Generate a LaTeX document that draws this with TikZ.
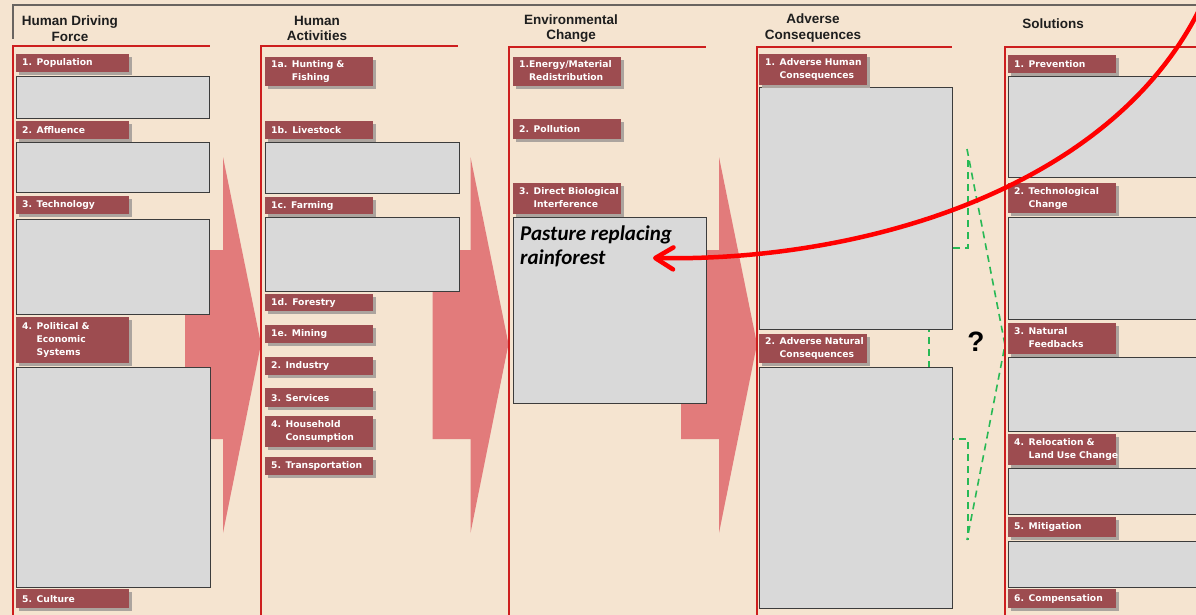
\documentclass[tikz,border=0pt]{standalone}
\usepackage{fontspec}
\usetikzlibrary{shadows,arrows.meta}
\newfontfamily\arialf{Liberation Sans}
\newfontfamily\verdf{DejaVu Sans}
\newfontfamily\calf{Carlito}
\definecolor{bgc}{RGB}{245,228,208}
\definecolor{tabc}{RGB}{157,76,80}
\definecolor{shadc}{RGB}{172,164,158}
\definecolor{boxc}{RGB}{217,217,217}
\definecolor{boxline}{RGB}{60,60,60}
\definecolor{colred}{RGB}{205,30,30}
\definecolor{framegray}{RGB}{105,100,96}
\definecolor{arrowc}{RGB}{226,123,123}
\definecolor{greenc}{RGB}{40,185,85}
\definecolor{headc}{RGB}{30,30,30}
\begin{document}
\begin{tikzpicture}[x=1pt,y=-1pt,
  tabx/.style={fill=tabc, text=white, font=\verdf\bfseries\fontsize{9.2}{13}\selectfont,
    anchor=north west, inner xsep=6pt, inner ysep=0pt, align=left, text width=96pt,
    drop shadow={shadow xshift=2.5pt, shadow yshift=-2.5pt, fill=shadc, opacity=1}},
  tabw/.style={tabx, text width=101pt},
  gbx/.style={fill=boxc, draw=boxline, line width=1.3pt, anchor=north west, inner sep=0pt},
  headx/.style={font=\arialf\bfseries\fontsize{13.5}{15.5}\selectfont, text=headc, align=center, inner sep=0pt},
  colline/.style={colred, line width=1.5pt},
  bigarrow/.style={fill=arrowc},
  greendash/.style={greenc, line width=1.6pt, dash pattern=on 7pt off 5pt}
]
\useasboundingbox (0,0) rectangle (1196,615);
\fill[bgc] (0,0) rectangle (1196,615);
\clip (0,0) rectangle (1196,615);

% outer frame
\draw[framegray, line width=2pt] (13,39) -- (13,5) -- (1200,5);

% big pink arrows
\foreach \dx in {0,247.5,496}{
  \fill[bigarrow] (185+\dx,250) -- (223+\dx,250) -- (223+\dx,157) -- (261+\dx,344)
     -- (223+\dx,533) -- (223+\dx,439) -- (185+\dx,439) -- cycle;
}

% green dashed lines
\coordinate (g1) at (968,160);
\coordinate (g2) at (968,248);
\coordinate (g3) at (929,248);
\coordinate (g4) at (929,439);
\coordinate (g5) at (968,439);
\coordinate (g6) at (968,540);
\draw[greendash] (g1) -- (g2) -- (g3) -- (g4) -- (g5) -- (g6);
\coordinate (d1) at (967,149);
\coordinate (d2) at (1005,345);
\coordinate (d3) at (967,540);
\draw[greendash] (d1) -- (d2) -- (d3);

% column frames
\draw[colline] (13,615) -- (13,46) -- (210,46);
\draw[colline] (261,615) -- (261,46) -- (458,46);
\draw[colline] (509,615) -- (509,47) -- (706,47);
\draw[colline] (757,615) -- (757,47) -- (952,47);
\draw[colline] (1005,615) -- (1005,47) -- (1200,47);

% headings
\node[headx] (h1) at (70,28.5) {Human Driving\\Force};
\node[headx] (h2) at (317,28.5) {Human\\Activities};
\node[headx] (h3) at (571,28.5) {Environmental\\Change};
\node[headx] (h4) at (813,28) {Adverse\\Consequences};
\node[headx] (h5) at (1053,24) {Solutions};

% column 1
\node[gbx, minimum width=193pt, minimum height=42pt] (b1) at (16,76) {};
\node[gbx, minimum width=193pt, minimum height=50pt] (b2) at (16,142) {};
\node[gbx, minimum width=193pt, minimum height=95pt] (b3) at (16,219) {};
\node[gbx, minimum width=194pt, minimum height=220pt] (b4) at (16,367) {};
\node[tabw, minimum height=18pt] (p1) at (16,54) {1. Population};
\node[tabw, minimum height=18pt] (p2) at (16,121) {2. Affluence};
\node[tabw, minimum height=18pt] (p3) at (16,196) {3. Technology};
\node[tabw, minimum height=46pt] (p4) at (16,317) {\begin{tabular}{@{}l@{ }l@{}}4.&Political \&\\&Economic\\&Systems\end{tabular}};
\node[tabw, minimum height=19pt] (p5) at (16,589) {5. Culture};

% column 2
\node[gbx, minimum width=194pt, minimum height=51pt] (c1) at (265,142) {};
\node[gbx, minimum width=194pt, minimum height=74pt] (c2) at (265,217) {};
\node[tabx, minimum height=29pt] (a1) at (265,57) {\begin{tabular}{@{}l@{ }l@{}}1a.&Hunting \&\\&Fishing\end{tabular}};
\node[tabx, minimum height=18pt] (a2) at (265,121) {1b. Livestock};
\node[tabx, minimum height=17pt] (a3) at (265,197) {1c. Farming};
\node[tabx, minimum height=17pt] (a4) at (265,294) {1d. Forestry};
\node[tabx, minimum height=18pt] (a5) at (265,325) {1e. Mining};
\node[tabx, minimum height=18pt] (a6) at (265,357) {2. Industry};
\node[tabx, minimum height=19pt] (a7) at (265,388) {3. Services};
\node[tabx, minimum height=31pt] (a8) at (265,416) {\begin{tabular}{@{}l@{ }l@{}}4.&Household\\&Consumption\end{tabular}};
\node[tabx, minimum height=18pt] (a9) at (265,457) {5. Transportation};

% column 3
\node[gbx, minimum width=193pt, minimum height=186pt] (ebox) at (513,217) {};
\node[tabx, minimum height=29pt] (e1) at (513,57) {\begin{tabular}{@{}l@{}l@{}}1.&Energy/Material\\&Redistribution\end{tabular}};
\node[tabx, minimum height=20pt] (e2) at (513,119) {2. Pollution};
\node[tabx, minimum height=31pt] (e3) at (513,183) {\begin{tabular}{@{}l@{ }l@{}}3.&Direct Biological\\&Interference\end{tabular}};
\node[anchor=north west, inner sep=0pt, align=left,
  font=\calf\bfseries\itshape\fontsize{21}{24}\selectfont] (pasture) at (520,226) {Pasture replacing\\rainforest};

% column 4
\node[gbx, minimum width=193pt, minimum height=242pt] (f1) at (759,87) {};
\node[gbx, minimum width=193pt, minimum height=241pt] (f2) at (759,367) {};
\node[tabx, minimum height=31pt] (d1t) at (759,54) {\begin{tabular}{@{}l@{ }l@{}}1.&Adverse Human\\&Consequences\end{tabular}};
\node[tabx, minimum height=29pt] (d2t) at (759,334) {\begin{tabular}{@{}l@{ }l@{}}2.&Adverse Natural\\&Consequences\end{tabular}};

% column 5
\node[gbx, minimum width=210pt, minimum height=101pt] (s1b) at (1008,76) {};
\node[gbx, minimum width=210pt, minimum height=102pt] (s2b) at (1008,217) {};
\node[gbx, minimum width=210pt, minimum height=74pt] (s3b) at (1008,357) {};
\node[gbx, minimum width=210pt, minimum height=46pt] (s4b) at (1008,468) {};
\node[gbx, minimum width=210pt, minimum height=46pt] (s5b) at (1008,541) {};
\node[tabx, minimum height=18pt] (s1) at (1008,55) {1. Prevention};
\node[tabx, minimum height=30pt] (s2) at (1008,183) {\begin{tabular}{@{}l@{ }l@{}}2.&Technological\\&Change\end{tabular}};
\node[tabx, minimum height=31pt] (s3) at (1008,323) {\begin{tabular}{@{}l@{ }l@{}}3.&Natural\\&Feedbacks\end{tabular}};
\node[tabx, minimum height=31pt] (s4) at (1008,434) {\begin{tabular}{@{}l@{ }l@{}}4.&Relocation \&\\&Land Use Change\end{tabular}};
\node[tabx, minimum height=20pt] (s5) at (1008,517) {5. Mitigation};
\node[tabx, minimum height=19pt] (s6) at (1008,589) {6. Compensation};

% question mark
\node[font=\arialf\bfseries\fontsize{28}{28}\selectfont, inner sep=0pt] (qm) at (976,342) {?};

% red curved arrow
\coordinate (cstart) at (1203,2);
\coordinate (ctip) at (653,258);
\draw[red, line width=4.5pt, -{Straight Barb[length=18pt,width=22pt,round]}]
  (cstart) .. controls (1115,190) and (860,262) .. (ctip);
\end{tikzpicture}
\end{document}
